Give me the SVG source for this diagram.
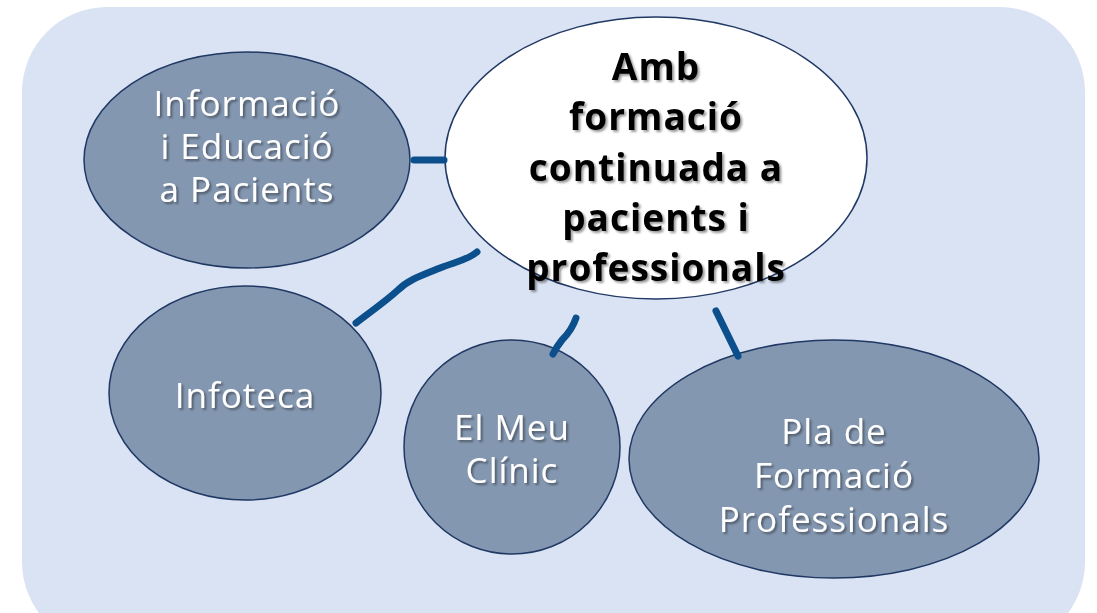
<svg xmlns="http://www.w3.org/2000/svg" width="1097" height="613" viewBox="0 0 1097 613">
<defs>
<filter id="sh" x="-10%" y="-10%" width="130%" height="140%">
<feDropShadow dx="2" dy="2" stdDeviation="1.2" flood-color="#000" flood-opacity="0.4"/>
</filter>
<style>
.node{fill:#8497b0;stroke:#203864;stroke-width:1.5}
.center{fill:#ffffff;stroke:#203864;stroke-width:1.5}
.lbl{font-family:"Open Sans","Liberation Sans",sans-serif;font-size:35px;letter-spacing:1px;fill:#ffffff;text-anchor:middle;filter:url(#sh)}
.clbl{font-family:"Open Sans","Liberation Sans",sans-serif;font-size:37px;letter-spacing:1px;font-weight:bold;fill:#000000;text-anchor:middle;filter:url(#sh)}
.con{fill:none;stroke:#0b4f8c;stroke-width:7;stroke-linecap:round;stroke-linejoin:round}
</style>
</defs>
<rect x="22" y="7" width="1063" height="640" rx="85" ry="85" fill="#dae3f3"/>
<g id="node-informacio">
<ellipse class="node" cx="247" cy="160" rx="163" ry="108"/>
<text class="lbl" x="247" y="116">Informació</text>
<text class="lbl" x="247" y="159">i Educació</text>
<text class="lbl" x="247" y="202">a Pacients</text>
</g>
<g id="node-infoteca">
<ellipse class="node" cx="245" cy="393" rx="136" ry="107"/>
<text class="lbl" x="245" y="408">Infoteca</text>
</g>
<g id="node-elmeuclinic">
<ellipse class="node" cx="512" cy="447" rx="108" ry="107"/>
<text class="lbl" x="512" y="440">El Meu</text>
<text class="lbl" x="512" y="483">Clínic</text>
</g>
<g id="node-pla">
<ellipse class="node" cx="834" cy="459" rx="205" ry="119"/>
<text class="lbl" x="834" y="444">Pla de</text>
<text class="lbl" x="834" y="488">Formació</text>
<text class="lbl" x="834" y="532">Professionals</text>
</g>
<g id="node-center">
<ellipse class="center" cx="656" cy="158" rx="211" ry="141"/>
<text class="clbl" x="656" y="80">Amb</text>
<text class="clbl" x="656" y="130">formació</text>
<text class="clbl" x="656" y="181">continuada a</text>
<text class="clbl" x="656" y="231">pacients i</text>
<text class="clbl" x="656" y="281">professionals</text>
</g>
<g id="connectors">
<path class="con" d="M414,160 L444,160"/>
<path class="con" d="M477,252 C468,260 455,262 440,268 C420,276 408,280 398,290 C385,302 370,312 356,323"/>
<path class="con" d="M576,318 C572,330 566,336 562,340 C558,345 555,350 553,354"/>
<path class="con" d="M716,311 L738,356"/>
</g>
</svg>
